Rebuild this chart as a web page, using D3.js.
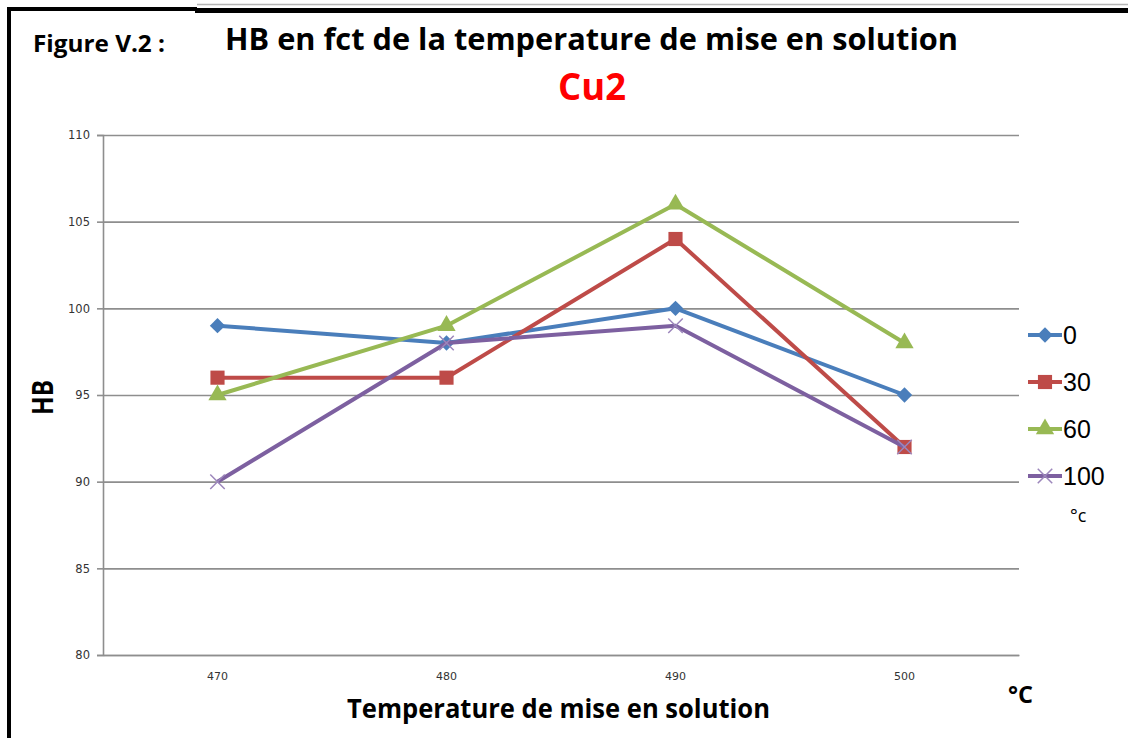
<!DOCTYPE html>
<html>
<head>
<meta charset="utf-8">
<script src="https://cdn.jsdelivr.net/npm/d3@7.9.0/dist/d3.min.js"></script>
<style>
  html, body { margin: 0; padding: 0; background: #fff; }
  svg { display: block; }
</style>
</head>
<body>
<div id="chart"></div>
<script>
/* ---------------------------------------------------------
   DATA
--------------------------------------------------------- */
const temperatures = ['470', '480', '490', '500'];
const seriesNames = ['0', '30', '60', '100'];
const hb0 = [99, 98, 100, 95];
const hb30 = [96, 96, 104, 92];
const hb60 = [95, 99, 106, 98];
const hb100 = [90, 98, 99, 92];
const yTicks = [80, 85, 90, 95, 100, 105, 110];

const seriesValues = [hb0, hb30, hb60, hb100];
const colors = ['#4A7EBB', '#BE4B48', '#98B954', '#7D60A0'];

/* ---------------------------------------------------------
   LAYOUT
--------------------------------------------------------- */
const width = 1128;
const height = 738;
const plot = { left: 103, right: 1019, top: 135, bottom: 655 };

const svg = d3.select('#chart').append('svg')
  .attr('width', width)
  .attr('height', height);

const x = d3.scaleBand()
  .domain(temperatures)
  .range([plot.left, plot.right]);

const y = d3.scaleLinear()
  .domain([80, 110])
  .range([plot.bottom, plot.top]);

const cx = (d) => x(d) + x.bandwidth() / 2;

/* ---------------------------------------------------------
   FRAME
--------------------------------------------------------- */
svg.append('line')
  .attr('x1', 197).attr('x2', width)
  .attr('y1', 4.5).attr('y2', 4.5)
  .attr('stroke', '#b5b5b5').attr('stroke-width', 1.5);

svg.append('path')
  .attr('d', `M9,${height} L9,9 L197,9`)
  .attr('fill', 'none')
  .attr('stroke', '#000')
  .attr('stroke-width', 4);

svg.append('line')
  .attr('x1', 195).attr('x2', width)
  .attr('y1', 10.5).attr('y2', 10.5)
  .attr('stroke', '#000').attr('stroke-width', 5);

/* ---------------------------------------------------------
   TITLES
--------------------------------------------------------- */
const boldFont = "'Open Sans', 'Liberation Sans', sans-serif";

svg.append('text')
  .attr('x', 33).attr('y', 52)
  .attr('font-family', boldFont)
  .attr('font-weight', 'bold')
  .attr('font-size', 23)
  .attr('textLength', 132)
  .attr('lengthAdjust', 'spacingAndGlyphs')
  .text('Figure V.2 :');

svg.append('text')
  .attr('x', 225).attr('y', 50)
  .attr('font-family', boldFont)
  .attr('font-weight', 'bold')
  .attr('font-size', 31)
  .attr('textLength', 733)
  .attr('lengthAdjust', 'spacingAndGlyphs')
  .text('HB en fct de la temperature de mise en solution');

svg.append('text')
  .attr('x', 558).attr('y', 100)
  .attr('font-family', boldFont)
  .attr('font-weight', 'bold')
  .attr('font-size', 37)
  .attr('fill', '#FF0000')
  .attr('textLength', 68)
  .attr('lengthAdjust', 'spacingAndGlyphs')
  .text('Cu2');

/* ---------------------------------------------------------
   GRID + AXES
--------------------------------------------------------- */
svg.append('g')
  .attr('class', 'grid')
  .attr('transform', `translate(${plot.left}, 0)`)
  .call(d3.axisLeft(y).tickValues(yTicks).tickSize(-(plot.right - plot.left)).tickFormat(''))
  .call((g) => g.select('.domain').remove())
  .call((g) => g.selectAll('line').attr('stroke', '#8e8e8e').attr('stroke-width', 1.6));

svg.append('g')
  .attr('class', 'y-axis')
  .attr('transform', `translate(${plot.left}, 0)`)
  .call(d3.axisLeft(y).tickValues(yTicks).tickSize(6).tickPadding(7))
  .call((g) => g.select('.domain').attr('stroke', '#8e8e8e').attr('stroke-width', 1.6))
  .call((g) => g.selectAll('line').attr('stroke', '#8e8e8e').attr('stroke-width', 1.6))
  .call((g) => g.selectAll('text')
    .attr('font-family', 'DejaVu Sans, Verdana, sans-serif')
    .attr('font-size', 11.5)
    .attr('fill', '#333'));

svg.append('g')
  .attr('class', 'x-axis')
  .attr('transform', `translate(0, ${plot.bottom})`)
  .call(d3.axisBottom(x).tickSize(0).tickPadding(17))
  .call((g) => g.select('.domain').attr('stroke', '#8e8e8e').attr('stroke-width', 1.6))
  .call((g) => g.selectAll('text')
    .attr('font-family', 'DejaVu Sans, Verdana, sans-serif')
    .attr('font-size', 11)
    .attr('fill', '#333'));

svg.append('text')
  .attr('transform', 'translate(53, 415) rotate(-90)')
  .attr('font-family', boldFont)
  .attr('font-weight', 'bold')
  .attr('font-size', 28)
  .attr('textLength', 35)
  .attr('lengthAdjust', 'spacingAndGlyphs')
  .text('HB');

svg.append('text')
  .attr('x', 347).attr('y', 718)
  .attr('font-family', boldFont)
  .attr('font-weight', 'bold')
  .attr('font-size', 27)
  .attr('textLength', 423)
  .attr('lengthAdjust', 'spacingAndGlyphs')
  .text('Temperature de mise en solution');

svg.append('text')
  .attr('x', 1008).attr('y', 703)
  .attr('font-family', boldFont)
  .attr('font-weight', 'bold')
  .attr('font-size', 24)
  .attr('textLength', 25)
  .attr('lengthAdjust', 'spacingAndGlyphs')
  .text('°C');

/* ---------------------------------------------------------
   MARKERS
--------------------------------------------------------- */
const symbolX = {
  draw(context, size) {
    const r = Math.sqrt(size) / 2;
    context.moveTo(-r, -r);
    context.lineTo(r, r);
    context.moveTo(-r, r);
    context.lineTo(r, -r);
  },
};

const markerDefs = [
  { type: d3.symbolSquare, size: 118, rotate: 45, stroke: false },
  { type: d3.symbolSquare, size: 200, rotate: 0, stroke: false },
  { type: d3.symbolTriangle, size: 145, rotate: 0, stroke: false },
  { type: symbolX, size: 210, rotate: 0, stroke: true },
];

function drawMarker(sel, i) {
  const m = markerDefs[i];
  sel.append('path')
    .attr('d', d3.symbol().type(m.type).size(m.size)())
    .attr('transform', `rotate(${m.rotate})`)
    .attr('fill', m.stroke ? 'none' : colors[i])
    .attr('stroke', m.stroke ? '#9c86bb' : 'none')
    .attr('stroke-width', 1.5);
}

/* ---------------------------------------------------------
   SERIES
--------------------------------------------------------- */
const line = d3.line()
  .x((d, i) => cx(temperatures[i]))
  .y((d) => y(d));

seriesValues.forEach((values, i) => {
  const g = svg.append('g').attr('class', 'series');

  g.append('path')
    .attr('d', line(values))
    .attr('fill', 'none')
    .attr('stroke', colors[i])
    .attr('stroke-width', 4)
    .attr('stroke-linejoin', 'round');

  values.forEach((v, j) => {
    const mg = g.append('g')
      .attr('transform', `translate(${cx(temperatures[j])}, ${y(v)})`);
    drawMarker(mg, i);
  });
});

/* ---------------------------------------------------------
   LEGEND
--------------------------------------------------------- */
const legendY = d3.scalePoint()
  .domain(seriesNames)
  .range([335, 476]);

seriesNames.forEach((name, i) => {
  const ly = legendY(name);
  const g = svg.append('g').attr('class', 'legend-item');

  g.append('line')
    .attr('x1', 1028).attr('x2', 1062)
    .attr('y1', ly).attr('y2', ly)
    .attr('stroke', colors[i])
    .attr('stroke-width', 4);

  const mg = g.append('g').attr('transform', `translate(1045, ${ly})`);
  drawMarker(mg, i);

  g.append('text')
    .attr('x', 1063)
    .attr('y', ly + 9)
    .attr('font-family', 'Liberation Sans, Arial, sans-serif')
    .attr('font-size', 25)
    .text(name);
});

svg.append('text')
  .attr('x', 1070).attr('y', 522)
  .attr('font-family', "'Open Sans', 'Liberation Sans', sans-serif")
  .attr('font-size', 18)
  .text('°c');
</script>
</body>
</html>
